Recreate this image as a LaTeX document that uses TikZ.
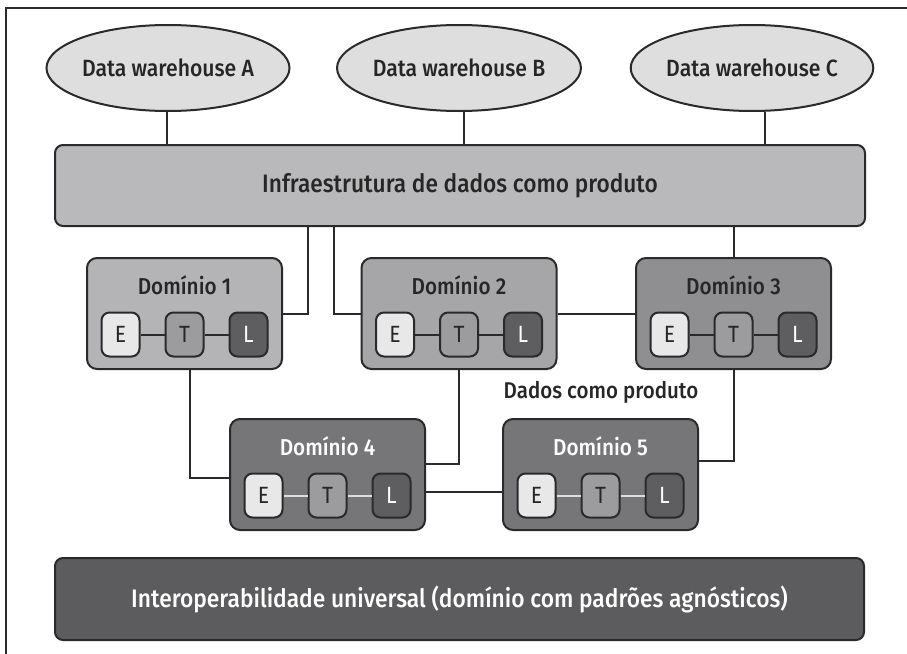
\documentclass[tikz,border=0pt]{standalone}
\usepackage{fontspec}
\setmainfont{Fira Sans Medium}[FakeStretch=0.9]
\newfontfamily\lightfont{Fira Sans}[FakeStretch=0.9]
\usetikzlibrary{shapes.geometric}

\definecolor{inkline}{HTML}{2A2A2A}
\definecolor{whfill}{HTML}{DEDEDF}
\definecolor{infrafill}{HTML}{B9B9BB}
\definecolor{domA}{HTML}{B4B4B6}
\definecolor{domB}{HTML}{A6A6A8}
\definecolor{domC}{HTML}{8F8F91}
\definecolor{domD}{HTML}{767678}
\definecolor{basefill}{HTML}{5C5C5E}
\definecolor{efill}{HTML}{E8E8E8}
\definecolor{tfill}{HTML}{9C9C9E}
\definecolor{lfill}{HTML}{5E5E60}
\definecolor{darktext}{HTML}{262626}

\tikzset{
  wh/.style={ellipse, draw=inkline, line width=2pt, fill=whfill,
    minimum width=230pt, minimum height=86pt, inner sep=0pt,
    font=\fontsize{23.5}{26}\selectfont, text=darktext},
  bar/.style={rectangle, rounded corners=8pt, draw=inkline, line width=2pt,
    inner sep=0pt},
  domainbox/.style={rectangle, rounded corners=10pt, draw=inkline, line width=2pt,
    minimum width=195pt, minimum height=111pt, inner sep=0pt},
  dtitle/.style={font=\fontsize{23}{25}\selectfont, inner sep=0pt},
  etl/.style={rectangle, rounded corners=8pt, draw=inkline, line width=2pt,
    minimum width=38pt, minimum height=44pt, inner sep=0pt,
    font=\lightfont\fontsize{23.5}{25}\selectfont},
  estep/.style={etl, fill=efill, text=darktext},
  tstep/.style={etl, fill=tfill, text=darktext},
  lstep/.style={etl, fill=lfill, text=white},
  wire/.style={draw=inkline, line width=2pt},
  inwire/.style={draw=#1, line width=2pt},
}

\begin{document}
\begin{tikzpicture}[x=1pt, y=-1pt]
  \useasboundingbox (0,0) rectangle (907,653);
  \fill[white] (0,0) rectangle (907,653);
  % page frame, open towards the right and the bottom
  \draw[inkline, line width=1.5pt] (6,700) -- (6,8) -- (960,8);

  % data warehouses
  \node[wh] (whA) at (168,68) {Data warehouse A};
  \node[wh] (whB) at (459,68) {Data warehouse B};
  \node[wh] (whC) at (752,68) {Data warehouse C};

  % infrastructure bar
  \node[bar, fill=infrafill, minimum width=810pt, minimum height=81pt,
        font=\fontsize{25.2}{28}\selectfont, text=darktext]
        (infra) at (460,185.5) {Infraestrutura de dados como produto};

  % domains: box, title and E-T-L chain
  \foreach \n/\cx/\cy/\fc/\tc/\wc in {1/184.5/313.5/domA/darktext/inkline,
                                      2/459/313.5/domB/darktext/inkline,
                                      3/733.5/313.5/domC/darktext/inkline,
                                      4/327.5/474.5/domD/white/whfill,
                                      5/600.5/474.5/domD/white/whfill}{
    \node[domainbox, fill=\fc] (d\n) at (\cx,\cy) {};
    \node[dtitle, text=\tc] (d\n title) at (\cx,\cy-28.5) {Domínio \n};
    \node[estep] (d\n e) at (\cx-64,\cy+21) {E};
    \node[tstep] (d\n t) at (\cx,\cy+21) {T};
    \node[lstep] (d\n l) at (\cx+64,\cy+21) {L};
    \draw[inwire=\wc] (d\n e) -- (d\n t);
    \draw[inwire=\wc] (d\n t) -- (d\n l);
  }

  \node[font=\fontsize{22.8}{25}\selectfont, text=darktext, inner sep=0pt]
        (dprod) at (601,392) {Dados como produto};

  % universal interoperability bar
  \node[bar, fill=basefill, minimum width=809pt, minimum height=82pt,
        font=\fontsize{25.3}{28}\selectfont, text=white]
        (base) at (459.5,599) {Interoperabilidade universal (domínio com padrões agnósticos)};

  % tap points on the bars
  \coordinate (xA) at (167,0);
  \coordinate (xB) at (464,0);
  \coordinate (xC) at (765,0);
  \coordinate (x1) at (308,0);
  \coordinate (x2) at (334,0);
  \coordinate (x3) at (190,0);
  \coordinate (y1) at (0,464);
  \coordinate (y2) at (0,492);
  \coordinate (y3) at (0,461);
  \coordinate (y4) at (0,478);

  % warehouses to infrastructure
  \draw[wire] (whA.south -| xA) -- (infra.north -| xA);
  \draw[wire] (whB.south -| xB) -- (infra.north -| xB);
  \draw[wire] (whC.south -| xC) -- (infra.north -| xC);

  % infrastructure to domains
  \draw[wire] (infra.south -| x1) |- (d1.east);
  \draw[wire] (infra.south -| x2) |- (d2.west);
  \draw[wire] (infra.south -| d3.north) -- (d3.north);

  % mesh between domains
  \draw[wire] (d2.east) -- (d3.west);
  \draw[wire] (d1.south -| x3) |- (d4.west |- y4);
  \draw[wire] (d2.south) |- (d4.east |- y1);
  \draw[wire] (d4.east |- y2) -- (d5.west |- y2);
  \draw[wire] (d3.south) |- (d5.east |- y3);
\end{tikzpicture}
\end{document}
